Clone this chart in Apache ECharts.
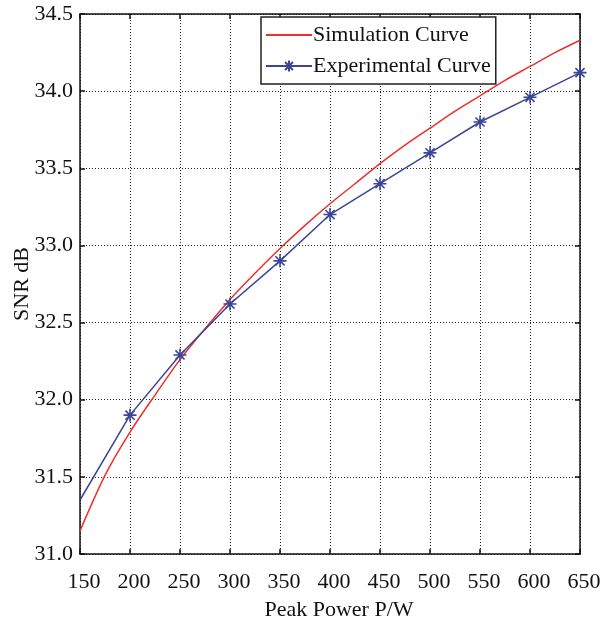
<!DOCTYPE html>
<html>
<head>
<meta charset="utf-8">
<script src="https://cdn.jsdelivr.net/npm/echarts@6/dist/echarts.min.js"></script>
<style>
  html, body { margin: 0; padding: 0; background: #fff; }
  #chart { width: 610px; height: 624px; }
</style>
</head>
<body>
<div id="chart"></div>
<script>
// simulation curve (read every 25 W)
const simPower = [150, 175, 200, 225, 250, 275, 300, 325, 350, 375, 400, 425, 450, 475, 500, 525, 550, 575, 600, 625, 650];
const simSNR = [31.15, 31.51, 31.79, 32.03, 32.26, 32.46, 32.65, 32.82, 32.98, 33.13, 33.27, 33.40, 33.53, 33.65, 33.76, 33.87, 33.97, 34.07, 34.16, 34.25, 34.33];

// experimental points
const expPower = [150, 200, 250, 300, 350, 400, 450, 500, 550, 600, 650];
const expSNR = [31.35, 31.90, 32.29, 32.62, 32.90, 33.20, 33.40, 33.60, 33.80, 33.96, 34.12];

const xTicks = [150, 200, 250, 300, 350, 400, 450, 500, 550, 600, 650];
const yTicks = [31.0, 31.5, 32.0, 32.5, 33.0, 33.5, 34.0, 34.5];

const red = '#ee2e2e';
const blue = '#3a4598';
const font = '"Liberation Serif", "Times New Roman", serif';
const star = 'path://M0,-10L0,10M-10,0L10,0M-7,-7L7,7M-7,7L7,-7';

const myChart = echarts.init(document.getElementById('chart'));

const gridLine = { show: true, lineStyle: { color: '#222', type: [1, 2], width: 1 } };
const axisLine = { show: true, onZero: false, lineStyle: { color: '#111', width: 1.5 } };
const tickIn = { show: true, inside: true, length: 5, lineStyle: { color: '#111', width: 1.5 } };

const option = {
    animation: false,
    backgroundColor: '#fff',
    grid: { left: 80, right: 30, top: 14, bottom: 70, containLabel: false, outerBoundsMode: 'none' },
    legend: {
        left: 261,
        top: 17,
        orient: 'vertical',
        backgroundColor: '#fff',
        borderColor: '#222',
        borderWidth: 1.5,
        padding: [7, 5, 7, 4],
        itemWidth: 46,
        itemHeight: 14,
        itemGap: 9,
        textStyle: { fontFamily: font, fontSize: 22, color: '#111', padding: [0, 0, 0, -4] },
        data: [
            { name: 'Simulation Curve', itemStyle: { opacity: 0 } },
            { name: 'Experimental Curve' }
        ]
    },
    xAxis: [
        {
            type: 'value', min: 150, max: 650, interval: 50,
            name: 'Peak Power P/W', nameLocation: 'middle', nameGap: 45, nameMoveOverlap: false,
            nameTextStyle: { fontFamily: font, fontSize: 22, color: '#111', padding: [0, 0, 0, 18] },
            axisLine: axisLine, axisTick: tickIn, splitLine: gridLine,
            axisLabel: { fontFamily: font, fontSize: 22, color: '#111', margin: 17, padding: [0, 0, 0, 8],
                formatter: v => xTicks.indexOf(v) >= 0 ? String(v) : '' }
        },
        {
            type: 'value', min: 150, max: 650, interval: 50, position: 'top',
            axisLine: axisLine, axisTick: tickIn, splitLine: { show: false },
            axisLabel: { show: false }
        }
    ],
    yAxis: [
        {
            type: 'value', min: 31, max: 34.5, interval: 0.5,
            name: 'SNR dB', nameLocation: 'middle', nameGap: 47, nameMoveOverlap: false,
            nameTextStyle: { fontFamily: font, fontSize: 22, color: '#111' },
            axisLine: axisLine, axisTick: tickIn, splitLine: gridLine,
            axisLabel: { fontFamily: font, fontSize: 22, color: '#111', margin: 7, padding: [8, 0, 0, 0],
                formatter: v => v.toFixed(1) }
        },
        {
            type: 'value', min: 31, max: 34.5, interval: 0.5, position: 'right',
            axisLine: axisLine, axisTick: tickIn, splitLine: { show: false },
            axisLabel: { show: false }
        }
    ],
    series: [
        {
            name: 'Simulation Curve',
            type: 'line',
            symbol: 'none',
            smooth: 0.3,
            color: red,
            lineStyle: { color: red, width: 1.5 },
            data: simPower.map((p, i) => [p, simSNR[i]])
        },
        {
            name: 'Experimental Curve',
            type: 'line',
            symbol: star,
            symbolSize: 13,
            color: blue,
            itemStyle: { color: blue, borderColor: blue, borderWidth: 1.6 },
            lineStyle: { color: blue, width: 1.5 },
            data: expPower.map((p, i) => i === 0
                ? { value: [p, expSNR[i]], symbol: 'none' }
                : [p, expSNR[i]])
        }
    ]
};

myChart.setOption(option);
</script>
</body>
</html>
